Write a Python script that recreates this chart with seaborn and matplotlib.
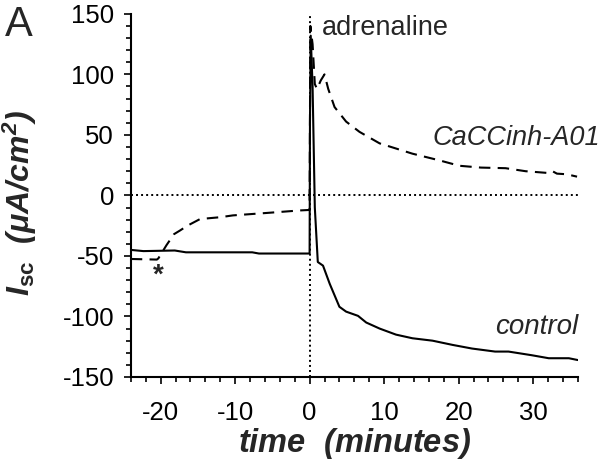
import numpy as np
import pandas as pd
import matplotlib
matplotlib.use("Agg")
import matplotlib.pyplot as plt
from matplotlib.ticker import MultipleLocator
import seaborn as sns

# control trace (solid)
time_control = [-24, -22.3, -18.1, -16.6, -7.7, -6.8, 0, 0.05, 0.15, 0.4, 0.7, 1.1,
                1.8, 2.7, 4.0, 4.9, 6.5, 7.6, 9.4, 11.6, 13.8, 16.5, 19.2, 21.8,
                24.9, 26.7, 29.8, 32.1, 34.8, 36]
isc_control = [-45, -46, -45.5, -47, -47, -48, -48, 60, 132, 90, -10, -55,
               -58, -73, -92, -96, -99.5, -105, -110, -115, -118, -120, -123.5, -126.5,
               -129, -129, -132, -134.5, -134.5, -136]

# CaCCinh-A01 trace (dashed)
time_caccinh = [-24, -20.5, -20.3, -19.8, -19.2, -18.2, -17.4, -16.4, -14.7, -12, -10.3,
                -5.8, -1.3, 0, 0.1, 0.4, 0.7, 1.0, 1.5, 2.0, 2.5, 3.35, 4.9, 6.7,
                9.4, 13.8, 17.4, 20.1, 23, 26.3, 29.0, 32.1, 32.6, 33.2, 34.5, 35.9]
isc_caccinh = [-52.5, -53, -52, -47, -41, -32, -29, -25, -19.5, -18, -16.5,
               -14.5, -12.4, -12, 140, 125, 92, 88, 95, 100, 88, 73, 61, 52.5,
               43, 34.5, 29, 24.5, 23, 22.5, 20, 18.5, 20, 18, 17.5, 15.5]

df_control = pd.DataFrame({"time": time_control, "isc": isc_control})
df_caccinh = pd.DataFrame({"time": time_caccinh, "isc": isc_caccinh})

sns.set_style("ticks")
plt.rcParams['font.family'] = ['Liberation Sans', 'DejaVu Sans']
plt.rcParams['axes.unicode_minus'] = False
plt.rcParams['mathtext.fontset'] = 'custom'
plt.rcParams['mathtext.rm'] = 'Liberation Sans'
plt.rcParams['mathtext.it'] = 'Liberation Sans:italic'
plt.rcParams['mathtext.bf'] = 'Liberation Sans:bold'
plt.rcParams['mathtext.bfit'] = 'Liberation Sans:bold:italic'

fig = plt.figure(figsize=(6, 4.62), dpi=100)
ax = fig.add_axes([0.218, 0.184, 0.745, 0.786])

dot = (0, (1, 1.6))
ax.axhline(0, color='black', lw=1.4, ls=dot, zorder=1)
ax.axvline(0, color='black', lw=1.4, ls=dot, zorder=1)

sns.lineplot(data=df_control, x="time", y="isc", ax=ax, color='black', lw=1.5,
             sort=False, estimator=None)
sns.lineplot(data=df_caccinh, x="time", y="isc", ax=ax, color='black', lw=1.5,
             sort=False, estimator=None, dashes=False, ls=(0, (5.5, 3.5)))

ax.set_xlim(-24, 36)
ax.set_ylim(-150, 150)
ax.xaxis.set_major_locator(MultipleLocator(10))
ax.xaxis.set_minor_locator(MultipleLocator(2))
ax.yaxis.set_major_locator(MultipleLocator(50))
ax.yaxis.set_minor_locator(MultipleLocator(10))
ax.tick_params(which='major', direction='out', length=5, width=1.2, labelsize=18.5,
               color='black', labelcolor='black')
ax.tick_params(which='minor', direction='out', length=3.5, width=1.2, color='black')
ax.tick_params(axis='x', which='major', pad=12)
ax.tick_params(axis='y', which='major', pad=7)
for s in ['top', 'right']:
    ax.spines[s].set_visible(False)
for s in ['left', 'bottom']:
    ax.spines[s].set_linewidth(1.5)
    ax.spines[s].set_color('black')

ax.set_xlabel(r"$\mathbfit{time}$  $\mathbfit{(minutes)}$", fontsize=23.5)
ax.xaxis.set_label_coords(0.5, -0.135)
ax.set_ylabel(r"$\mathbfit{I}_{\mathbf{sc}}$  $\mathbfit{(\mu A/cm^2)}$", fontsize=23)
ax.yaxis.set_label_coords(-0.205, 0.48)

ax.text(1.7, 138, "adrenaline", fontsize=19.5, va='center', ha='left')
ax.text(16.5, 47.6, "CaCCinh-A01", fontsize=19.5, style='italic', va='center',
        ha='left', clip_on=False)
ax.text(36, -109, "control", fontsize=20, style='italic', va='center', ha='right')
ax.text(-20.3, -66, "*", fontsize=20, fontweight='bold', va='center', ha='center')

fig.text(0.008, 0.99, "A", fontsize=30, va='top', ha='left')

fig.savefig("out.png", dpi=100)
